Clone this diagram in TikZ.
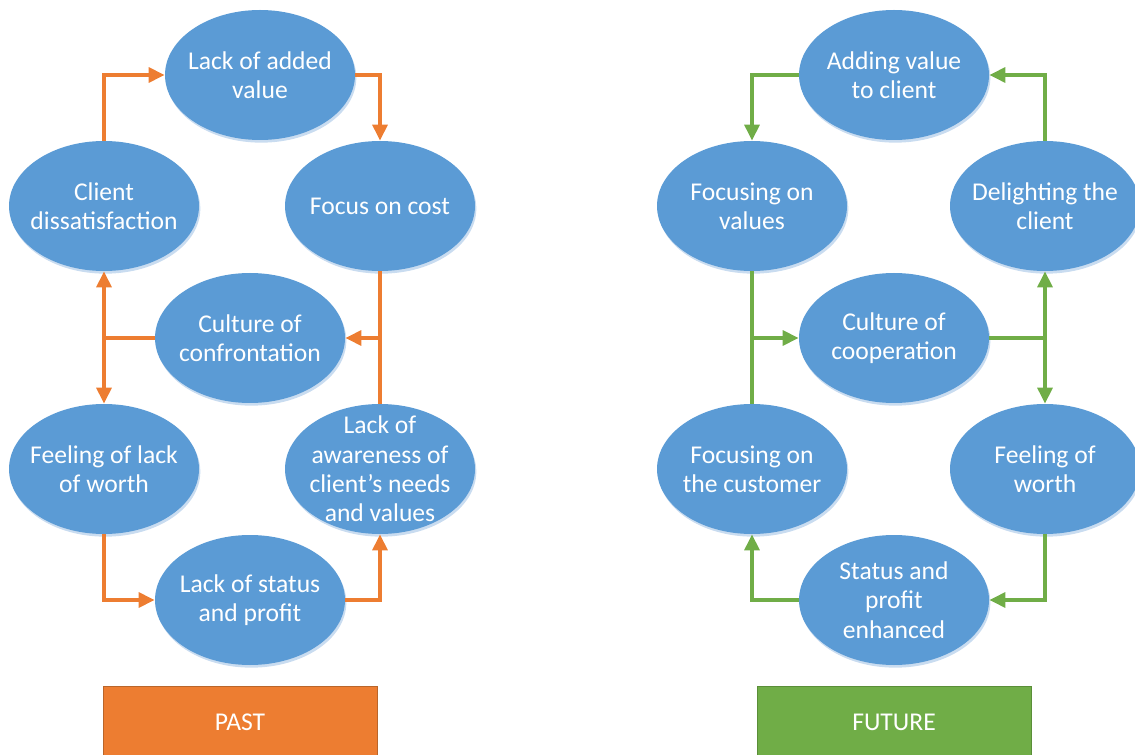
\documentclass[tikz,border=0pt]{standalone}
\usepackage{fontspec}
\setmainfont{Carlito}
\usetikzlibrary{shapes.geometric,arrows.meta}
\definecolor{eblue}{HTML}{5B9BD5}
\definecolor{eshadow}{HTML}{C9DCF0}
\definecolor{orng}{HTML}{ED7D31}
\definecolor{orngdark}{HTML}{B9652A}
\definecolor{grn}{HTML}{70AD47}
\definecolor{grndark}{HTML}{5A8E38}
\tikzset{
  x=0.75pt,y=-0.75pt,
  bub/.style={ellipse,fill=eblue,minimum width=142.5pt,minimum height=97.5pt,
    inner xsep=-30pt,inner ysep=-35pt,
    align=center,text=white,font=\fontsize{19.2}{22}\selectfont},
  shad/.style={ellipse,fill=eshadow,minimum width=142.5pt,minimum height=97.5pt,inner sep=0pt},
  oline/.style={draw=orng,line width=2.8pt},
  gline/.style={draw=grn,line width=2.8pt},
  tip/.style={-{Triangle[length=12pt,width=11pt]}},
  lbl/.style={text=white,font=\fontsize{19.2}{22}\selectfont}
}
\begin{document}
\begin{tikzpicture}
\useasboundingbox (0,0) rectangle (1135,755);
% shadows
\foreach \a/\b [count=\i] in {260/75,104/206,380/206,250/338,104/469,380/469,250/600,
                894/75,752/206,1045/206,894/338,752/469,1045/469,894/600}
  \node[shad] (sh\i) at ([xshift=1pt,yshift=-2pt]\a,\b) {};
% PAST
\node[bub] (lav) at (260,75) {Lack of added\\value};
\node[bub] (cd) at (104,206) {Client\\dissatisfaction};
\node[bub] (fc) at (380,206) {Focus on cost};
\node[bub] (cc) at (250,338) {Culture of\\confrontation};
\node[bub] (flw) at (104,469) {Feeling of lack\\of worth};
\node[bub] (la) at (380,469) {Lack of\\awareness of\\client’s needs\\and values};
\node[bub] (ls) at (250,600) {Lack of status\\and profit};
% FUTURE
\node[bub] (av) at (894,75) {Adding value\\to client};
\node[bub] (fv) at (752,206) {Focusing on\\values};
\node[bub] (dc) at (1045,206) {Delighting the\\client};
\node[bub] (co) at (894,338) {Culture of\\cooperation};
\node[bub] (fcu) at (752,469) {Focusing on\\the customer};
\node[bub] (fw) at (1045,469) {Feeling of\\worth};
\node[bub] (sp) at (894,600) {Status and\\profit\\enhanced};
% PAST connectors
\draw[oline,tip] (cd.north) |- (lav.west);
\draw[oline,tip] (lav.east) -| (fc.north);
\draw[oline] (fc.south) -- (la.north);
\coordinate (jr) at (fc.south |- cc.east);
\draw[oline,tip] (jr) -- (cc.east);
\draw[oline,tip] (cc.west) -| (cd.south);
\draw[oline,tip] (cc.west) -| (flw.north);
\draw[oline,tip] (flw.south) |- (ls.west);
\draw[oline,tip] (ls.east) -| (la.south);
% FUTURE connectors
\draw[gline,tip] (av.west) -| (fv.north);
\draw[gline] (fv.south) -- (fcu.north);
\coordinate (jl) at (fv.south |- co.west);
\draw[gline,tip] (jl) -- (co.west);
\draw[gline,tip] (co.east) -| (dc.south);
\draw[gline,tip] (co.east) -| (fw.north);
\draw[gline,tip] (dc.north) |- (av.east);
\draw[gline,tip] (fw.south) |- (sp.east);
\draw[gline,tip] (sp.west) -| (fcu.south);
% labels
\fill[orng] (103,686) rectangle (377,755);
\draw[orngdark,line width=0.75pt] (103,755) -- (103,686) -- (377,686) -- (377,755);
\node[lbl] (past) at (240,722) {PAST};
\fill[grn] (757,686) rectangle (1031,755);
\draw[grndark,line width=0.75pt] (757,755) -- (757,686) -- (1031,686) -- (1031,755);
\node[lbl] (future) at (894,722) {FUTURE};
\end{tikzpicture}
\end{document}
